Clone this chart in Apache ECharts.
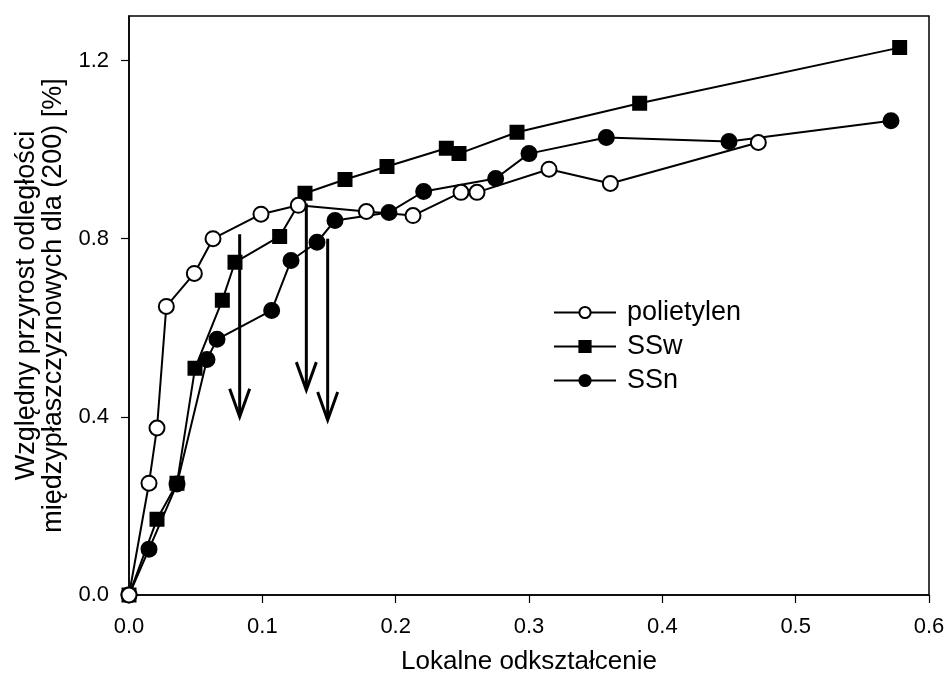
<!DOCTYPE html>
<html>
<head>
<meta charset="utf-8">
<script src="https://cdn.jsdelivr.net/npm/echarts@6/dist/echarts.min.js"></script>
<style>
  html, body { margin: 0; padding: 0; background: #fff; }
  #chart { width: 947px; height: 677px; }
</style>
</head>
<body>
<div id="chart"></div>
<script>
// Relative growth of (200) interplanar spacing vs. local strain
const xTicks = [0.0, 0.1, 0.2, 0.3, 0.4, 0.5, 0.6];
const yTicks = [0.0, 0.4, 0.8, 1.2];

const polietylen = [
  [0.000, 0.000], [0.015, 0.251], [0.021, 0.375], [0.028, 0.648],
  [0.049, 0.722], [0.063, 0.800], [0.099, 0.855], [0.127, 0.875],
  [0.178, 0.861], [0.213, 0.852], [0.249, 0.904], [0.261, 0.904],
  [0.315, 0.956], [0.361, 0.924], [0.472, 1.016]
];

const SSw = [
  [0.000, 0.000], [0.021, 0.170], [0.036, 0.251], [0.0495, 0.509],
  [0.070, 0.662], [0.0795, 0.747], [0.113, 0.805], [0.132, 0.902],
  [0.162, 0.933], [0.1935, 0.962], [0.238, 1.003], [0.2475, 0.991],
  [0.291, 1.039], [0.383, 1.104], [0.578, 1.229]
];

const SSn = [
  [0.000, 0.000], [0.015, 0.103], [0.036, 0.249], [0.0585, 0.529],
  [0.066, 0.574], [0.107, 0.639], [0.1215, 0.751], [0.141, 0.792],
  [0.1545, 0.841], [0.195, 0.859], [0.221, 0.906], [0.275, 0.935],
  [0.300, 0.991], [0.358, 1.027], [0.450, 1.018], [0.5715, 1.065]
];

// Downward arrows: [x, y start, y tip]
const arrows = [
  [0.083, 0.810, 0.400],
  [0.133, 0.879, 0.460],
  [0.149, 0.800, 0.393]
];

const FONT = '"Liberation Sans", Arial, sans-serif';
const chart = echarts.init(document.getElementById('chart'), null, { renderer: 'canvas' });

function lineSeries(name, data, symbol, size, fill) {
  return {
    name: name,
    type: 'line',
    data: data,
    symbol: symbol,
    symbolSize: size,
    showAllSymbol: true,
    lineStyle: { color: '#000', width: 2 },
    itemStyle: { color: fill, borderColor: '#000', borderWidth: 2 },
    emphasis: { disabled: true },
    animation: false
  };
}

chart.setOption({
  backgroundColor: '#fff',
  animation: false,
  grid: {
    left: 129, top: 16, width: 800, height: 579,
    outerBoundsMode: 'none',
    containLabel: false,
    show: true, borderColor: '#000', borderWidth: 1.5, backgroundColor: 'transparent'
  },
  legend: {
    orient: 'vertical',
    left: 548, top: 292,
    itemWidth: 62, itemHeight: 14, itemGap: 3,
    textStyle: { fontFamily: FONT, fontSize: 27, color: '#000', lineHeight: 31, padding: [0, 0, 0, 6] },
    data: ['polietylen', 'SSw', 'SSn']
  },
  xAxis: {
    type: 'value', min: 0, max: 0.6,
    name: 'Lokalne odkształcenie', nameLocation: 'middle', nameGap: 54,
    nameTextStyle: { fontFamily: FONT, fontSize: 26, color: '#000' },
    axisLine: { show: true, lineStyle: { color: '#000', width: 1.5 } },
    axisTick: { show: true, length: 8, customValues: xTicks, lineStyle: { color: '#000', width: 1.2 } },
    axisLabel: {
      fontFamily: FONT, fontSize: 22, color: '#000', margin: 21,
      customValues: xTicks,
      formatter: v => v.toFixed(1)
    },
    splitLine: { show: false }
  },
  yAxis: {
    type: 'value', min: 0, max: 1.3,
    name: 'Względny przyrost odległości\nmiędzypłaszczyznowych dla (200) [%]',
    nameLocation: 'middle', nameGap: 56, nameRotate: 90,
    nameTextStyle: { fontFamily: FONT, fontSize: 27, color: '#000', lineHeight: 27 },
    axisLine: { show: true, lineStyle: { color: '#000', width: 1.5 } },
    axisTick: { show: true, length: 8, customValues: yTicks, lineStyle: { color: '#000', width: 1.2 } },
    axisLabel: {
      fontFamily: FONT, fontSize: 22, color: '#000', margin: 20,
      customValues: yTicks,
      formatter: v => v.toFixed(1)
    },
    splitLine: { show: false }
  },
  series: [
    lineSeries('SSn', SSn, 'circle', 15, '#000'),
    lineSeries('SSw', SSw, 'rect', 13, '#000'),
    lineSeries('polietylen', polietylen, 'circle', 15, '#fff'),
    {
      type: 'custom',
      name: 'arrows',
      data: arrows,
      encode: { x: 0, y: [1, 2] },
      silent: true,
      z: 5,
      renderItem: function (params, api) {
        const x = api.value(0);
        const p1 = api.coord([x, api.value(1)]);
        const p2 = api.coord([x, api.value(2)]);
        return {
          type: 'group',
          children: [
            {
              type: 'line',
              shape: { x1: p1[0], y1: p1[1], x2: p2[0], y2: p2[1] - 2 },
              style: { stroke: '#000', lineWidth: 3 }
            },
            {
              type: 'polyline',
              shape: { points: [[p2[0] - 10, p2[1] - 28], [p2[0], p2[1]], [p2[0] + 10, p2[1] - 28]] },
              style: { stroke: '#000', lineWidth: 3, fill: null }
            }
          ]
        };
      }
    }
  ]
});
</script>
</body>
</html>
